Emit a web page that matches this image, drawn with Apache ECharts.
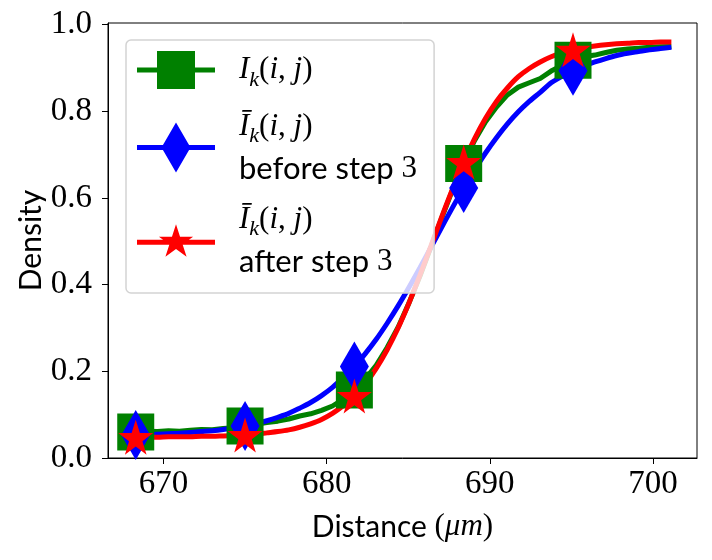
<!DOCTYPE html>
<html>
<head>
<meta charset="utf-8">
<script src="https://cdn.jsdelivr.net/npm/echarts@6/dist/echarts.min.js"></script>
<style>
  html, body { margin: 0; padding: 0; background: #fff; }
  #chart { width: 712px; height: 560px; }
</style>
</head>
<body>
<div id="chart"></div>
<script>
// x positions of the samples (um)
var distance = [668.3, 668.97, 669.64, 670.31, 670.98, 671.65, 672.32, 672.99, 673.66, 674.33,
  675.0, 675.67, 676.34, 677.01, 677.68, 678.35, 679.02, 679.69, 680.36, 681.03,
  681.7, 682.37, 683.04, 683.71, 684.38, 685.05, 685.72, 686.39, 687.06, 687.73,
  688.4, 689.07, 689.74, 690.41, 691.08, 691.75, 692.42, 693.09, 693.76, 694.43,
  695.1, 695.77, 696.44, 697.11, 697.78, 698.45, 699.12, 699.79, 700.46, 701.13];

// I_k(i,j) raw density (green)
var rawDensity = [0.060, 0.062, 0.061, 0.063, 0.062, 0.064, 0.066, 0.065, 0.068, 0.070,
  0.074, 0.078, 0.082, 0.085, 0.090, 0.097, 0.102, 0.110, 0.120, 0.136,
  0.157, 0.182, 0.214, 0.255, 0.302, 0.358, 0.420, 0.487, 0.555, 0.620,
  0.680, 0.733, 0.776, 0.810, 0.838, 0.856, 0.866, 0.876, 0.893, 0.906,
  0.918, 0.926, 0.930, 0.936, 0.941, 0.944, 0.946, 0.948, 0.949, 0.950];

// bar I_k(i,j) before step 3 (blue)
var beforeStep3 = [0.053, 0.054, 0.055, 0.056, 0.057, 0.059, 0.061, 0.063, 0.066, 0.070,
  0.074, 0.079, 0.086, 0.094, 0.103, 0.115, 0.128, 0.144, 0.163, 0.186,
  0.211, 0.241, 0.274, 0.311, 0.351, 0.394, 0.439, 0.486, 0.533, 0.579,
  0.623, 0.665, 0.704, 0.739, 0.771, 0.799, 0.823, 0.844, 0.866, 0.881,
  0.894, 0.905, 0.914, 0.922, 0.929, 0.934, 0.938, 0.942, 0.945, 0.948];

// bar I_k(i,j) after step 3 (red)
var afterStep3 = [0.048, 0.048, 0.048, 0.049, 0.049, 0.049, 0.050, 0.050, 0.051, 0.052,
  0.053, 0.055, 0.058, 0.061, 0.065, 0.071, 0.079, 0.089, 0.103, 0.121,
  0.143, 0.171, 0.207, 0.250, 0.300, 0.358, 0.422, 0.489, 0.557, 0.622,
  0.683, 0.737, 0.784, 0.823, 0.854, 0.880, 0.899, 0.914, 0.926, 0.935,
  0.942, 0.947, 0.951, 0.954, 0.956, 0.957, 0.959, 0.959, 0.960, 0.960];

// markers are drawn on every 10th sample
var markerIdx = [0, 10, 20, 30, 40];

var xTicks = [670, 680, 690, 700];
var yTicks = [0, 0.2, 0.4, 0.6, 0.8, 1.0];

var chart = echarts.init(document.getElementById('chart'), null, { renderer: 'canvas' });

function pairs(ys) {
  return distance.map(function (x, i) { return [x, ys[i]]; });
}
function markSize(size) {
  return function (val, params) {
    return markerIdx.indexOf(params.dataIndex) >= 0 ? size : 0;
  };
}

var starPath = 'path://M39,7L43.04,19.43L56.12,19.44L45.54,27.13L49.58,39.56L39,31.88L28.42,39.56L32.46,27.13L21.88,19.44L34.96,19.43Z';
var diamondPath = 'path://M0,-1L0.58,0L0,1L-0.58,0Z';

// legend handles: line + marker in one path
var lineBar = 'M0,22.5H78V27.5H0Z';
var iconSquare = 'path://' + lineBar + 'M20,6H58V44H20Z';
var iconDiamond = 'path://' + lineBar + 'M39,0L53.5,25L39,50L24.5,25Z';
var iconStar = 'path://' + lineBar + 'M39,7L43.04,19.43L56.12,19.44L45.54,27.13L49.58,39.56L39,31.88L28.42,39.56L32.46,27.13L21.88,19.44L34.96,19.43Z';

var mathFont = 'Liberation Serif';
var sansFont = 'Lato';

var legendRich = {
  it: { fontFamily: mathFont, fontStyle: 'italic', fontSize: 31, lineHeight: 42, color: '#000' },
  up: { fontFamily: mathFont, fontSize: 31, lineHeight: 42, color: '#000' },
  sub: { fontFamily: mathFont, fontStyle: 'italic', fontSize: 22, lineHeight: 29, verticalAlign: 'bottom', color: '#000' },
  s: { fontFamily: sansFont, fontSize: 31, lineHeight: 42, color: '#000' }
};
var mathI = '{it|I}{sub|k}{up|(}{it|i}{up|, }{it|j}{up|)}';
var mathIbar = '{it|Ī}{sub|k}{up|(}{it|i}{up|, }{it|j}{up|)}';

var legendText = {
  'raw': mathI,
  'before': mathIbar + '\n{s|before step }{up|3}',
  'after': mathIbar + '\n{s|after step }{up|3}'
};

var tickRich = {
  t: { fontFamily: mathFont, fontSize: 33, color: '#000' }
};

var option = {
  animation: false,
  backgroundColor: '#fff',
  grid: {
    left: 108, right: 15, top: 23, bottom: 102,
    show: true, borderColor: '#000', borderWidth: 1,
    outerBoundsMode: 'none'
  },
  legend: {
    left: 126, top: 40,
    orient: 'vertical',
    selectedMode: false,
    itemWidth: 78,
    itemHeight: 50,
    itemGap: 20,
    padding: [11, 17, 16, 11],
    backgroundColor: 'rgba(255,255,255,0.8)',
    borderColor: '#d3d3d3',
    borderWidth: 1.5,
    borderRadius: 5,
    textStyle: { padding: [0, 0, 0, 19], rich: legendRich },
    formatter: function (name) { return legendText[name]; },
    data: [
      { name: 'raw', icon: iconSquare },
      { name: 'before', icon: iconDiamond },
      { name: 'after', icon: iconStar }
    ]
  },
  xAxis: {
    type: 'value',
    min: 666.6,
    max: 702.7,
    name: '{s|Distance }{up|(}{it|μm}{up|)}',
    nameLocation: 'middle',
    nameGap: 51,
    nameMoveOverlap: false,
    nameTextStyle: {
      rich: {
        s: { fontFamily: sansFont, fontSize: 30, lineHeight: 36, color: '#000' },
        up: { fontFamily: mathFont, fontSize: 31, lineHeight: 36, color: '#000' },
        it: { fontFamily: mathFont, fontStyle: 'italic', fontSize: 31, lineHeight: 36, color: '#000' }
      }
    },
    axisLine: { show: true, onZero: false, lineStyle: { color: '#000', width: 1 } },
    axisTick: { show: true, length: 6, customValues: xTicks, lineStyle: { color: '#000', width: 1 } },
    axisLabel: {
      customValues: xTicks,
      margin: 10,
      rich: tickRich,
      formatter: function (v) { return '{t|' + Math.round(v) + '}'; }
    },
    splitLine: { show: false }
  },
  yAxis: {
    type: 'value',
    min: 0,
    max: 1.004,
    name: 'Density',
    nameLocation: 'middle',
    nameGap: 62,
    nameMoveOverlap: false,
    nameTextStyle: { fontFamily: sansFont, fontSize: 30, color: '#000' },
    axisLine: { show: true, onZero: false, lineStyle: { color: '#000', width: 1 } },
    axisTick: { show: true, length: 6, customValues: yTicks, lineStyle: { color: '#000', width: 1 } },
    axisLabel: {
      customValues: yTicks,
      margin: 16,
      rich: tickRich,
      formatter: function (v) { return '{t|' + v.toFixed(1) + '}'; }
    },
    splitLine: { show: false }
  },
  series: [
    {
      name: 'raw',
      type: 'line',
      data: pairs(rawDensity),
      color: '#008000',
      lineStyle: { width: 5, color: '#008000' },
      symbol: 'rect',
      symbolSize: markSize(37),
      showAllSymbol: true,
      itemStyle: { color: '#008000' },
      smooth: false
    },
    {
      name: 'before',
      type: 'line',
      data: pairs(beforeStep3),
      color: '#0000ff',
      lineStyle: { width: 5, color: '#0000ff' },
      symbol: diamondPath,
      symbolSize: function (val, params) {
        return markerIdx.indexOf(params.dataIndex) >= 0 ? [29, 50] : 0;
      },
      showAllSymbol: true,
      itemStyle: { color: '#0000ff' },
      smooth: 0.3
    },
    {
      name: 'after',
      type: 'line',
      data: pairs(afterStep3),
      color: '#ff0000',
      lineStyle: { width: 5, color: '#ff0000' },
      symbol: starPath,
      symbolSize: markSize(35),
      showAllSymbol: true,
      itemStyle: { color: '#ff0000' },
      smooth: 0.3
    }
  ]
};

chart.setOption(option);
</script>
</body>
</html>
